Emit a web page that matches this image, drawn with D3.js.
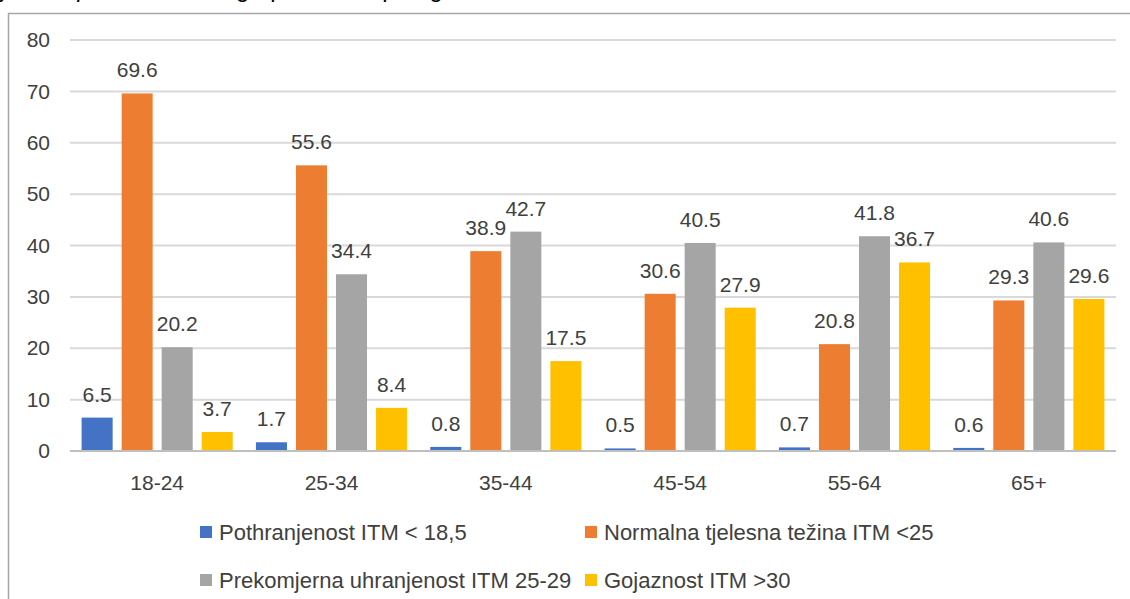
<!DOCTYPE html>
<html><head><meta charset="utf-8">
<script src="https://cdn.jsdelivr.net/npm/d3@7"></script>
<style>html,body{margin:0;padding:0;background:#fff;overflow:hidden}</style>
</head><body>
<svg id="c" width="1130" height="599"></svg>
<script>
const categories = ["18-24","25-34","35-44","45-54","55-64","65+"];
const seriesNames = ["Pothranjenost ITM < 18,5","Normalna tjelesna težina ITM <25","Prekomjerna uhranjenost ITM 25-29","Gojaznost ITM >30"];
const underweight = [6.5,1.7,0.8,0.5,0.7,0.6];
const normal = [69.6,55.6,38.9,30.6,20.8,29.3];
const overweight = [20.2,34.4,42.7,40.5,41.8,40.6];
const obese = [3.7,8.4,17.5,27.9,36.7,29.6];
const yTicks = [0,10,20,30,40,50,60,70,80];
const colors = ["#4472C4","#ED7D31","#A5A5A5","#FFC000"];
const seriesValues = [underweight, normal, overweight, obese];

const svg = d3.select("#c");
const font = "'Liberation Sans', Arial, sans-serif";
const txt = "#404040";

// cut-off caption above the chart frame
svg.append("text").attr("x", -60).attr("y", -3)
  .attr("font-family", font).attr("font-style","italic").attr("font-size", 24).attr("fill","#000")
  .text("uhranjenosti prema dobnim grupama, ukupno godina");

// frame
svg.append("path").attr("d","M8.5,1130 V13.5 H1131").attr("fill","none").attr("stroke","#a6a6a6").attr("stroke-width",1.5);

const x0 = d3.scaleBand().domain(categories).range([70,1116]);
const x1 = d3.scaleBand().domain(d3.range(4)).range([0,x0.bandwidth()]).paddingInner(0.225).paddingOuter(0.29);
const y = d3.scaleLinear().domain([0,80]).range([451,40]);

// gridlines
svg.append("g").selectAll("line").data(yTicks.filter(d=>d>0)).join("line")
  .attr("x1",70).attr("x2",1116).attr("y1",d=>y(d)).attr("y2",d=>y(d))
  .attr("stroke","#d9d9d9").attr("stroke-width",2);

// y axis labels
const yAxis = d3.axisLeft(y).tickValues(yTicks).tickSize(0).tickPadding(0);
const gy = svg.append("g").attr("transform","translate(50,0)").call(yAxis);
gy.select(".domain").remove();
gy.selectAll("text").attr("font-family",font).attr("font-size",21).attr("fill",txt);

// bars
const groups = svg.append("g").selectAll("g").data(categories).join("g")
  .attr("transform", c => `translate(${x0(c)},0)`);
groups.selectAll("rect").data((c,i)=>seriesValues.map((s,k)=>({k, v:s[i]}))).join("rect")
  .attr("x", d=>x1(d.k)).attr("width", x1.bandwidth())
  .attr("y", d=>y(d.v)).attr("height", d=>y(0)-y(d.v))
  .attr("fill", d=>colors[d.k]);
groups.selectAll("text").data((c,i)=>seriesValues.map((s,k)=>({k, v:s[i]}))).join("text")
  .attr("x", d=>x1(d.k)+x1.bandwidth()/2).attr("y", d=>y(d.v)-16)
  .attr("text-anchor","middle").attr("font-family",font).attr("font-size",21).attr("fill",txt)
  .text(d=>d.v.toFixed(1));

// x axis line
svg.append("line").attr("x1",70).attr("x2",1116).attr("y1",y(0)).attr("y2",y(0))
  .attr("stroke","#bfbfbf").attr("stroke-width",2);

// x axis labels
const xAxis = d3.axisBottom(x0).tickSize(0).tickPadding(0);
const gx = svg.append("g").attr("transform","translate(0,475)").call(xAxis);
gx.select(".domain").remove();
gx.selectAll("text").attr("font-family",font).attr("font-size",21).attr("fill",txt).attr("dy","0.71em");

// legend
const legendPos = [[200,532],[585,532],[200,580],[585,580]];
const lg = svg.append("g").selectAll("g").data(seriesNames).join("g")
  .attr("transform",(d,i)=>`translate(${legendPos[i][0]},${legendPos[i][1]})`);
lg.append("rect").attr("x",0).attr("y",-6).attr("width",12).attr("height",12).attr("fill",(d,i)=>colors[i]);
lg.append("text").attr("x",19).attr("y",0).attr("dy","0.35em")
  .attr("font-family",font).attr("font-size",22).attr("fill",txt).text(d=>d);
</script>
</body></html>
